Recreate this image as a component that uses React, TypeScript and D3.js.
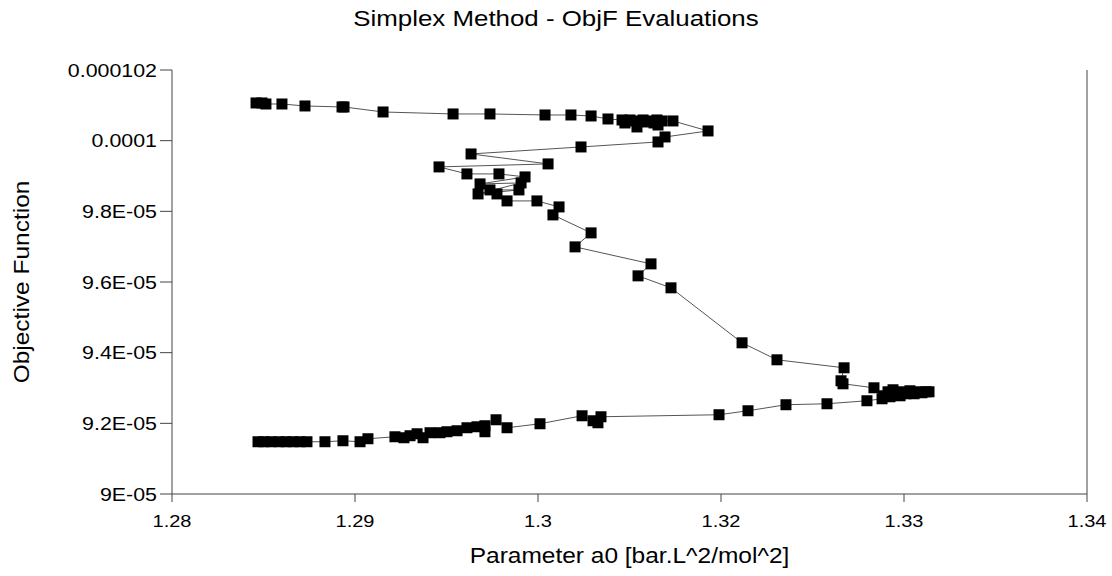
import React from "react";
import * as d3 from "d3";

const xValues: number[] = [
  1.28551, 1.2859, 1.28616, 1.28721, 1.28872, 1.29115, 1.29128, 1.29384, 1.29843, 1.30085,
  1.30446, 1.30616, 1.30748, 1.30859, 1.30951, 1.3097, 1.31003, 1.31023, 1.31049, 1.31089,
  1.31115, 1.31134, 1.31161, 1.3118, 1.31187, 1.31213, 1.31285, 1.31515, 1.31233, 1.31187,
  1.30682, 1.29961, 1.30466, 1.29751, 1.29934, 1.30144, 1.30315, 1.3002, 1.30289, 1.30007,
  1.30275, 1.30085, 1.30131, 1.30197, 1.30393, 1.30538, 1.30498, 1.30748, 1.30643, 1.31141,
  1.31056, 1.31272, 1.31738, 1.31967, 1.32407, 1.32387, 1.324, 1.32603, 1.32669, 1.32695,
  1.32728, 1.32754, 1.32787, 1.32813, 1.32839, 1.32866, 1.32892, 1.32918, 1.32944, 1.32964,
  1.32774, 1.32708, 1.32656, 1.32557, 1.32295, 1.32026, 1.31777, 1.31587, 1.30813, 1.30793,
  1.30761, 1.30689, 1.30413, 1.30197, 1.30125, 1.30052, 1.30052, 1.3, 1.29934, 1.29869,
  1.29803, 1.29757, 1.29692, 1.29646, 1.29607, 1.29561, 1.29521, 1.29462, 1.29285, 1.29233,
  1.29121, 1.29003, 1.28885, 1.28839, 1.28793, 1.28748, 1.28702, 1.28649, 1.28603, 1.28564,
];

// objective function values, in units of 1e-6
const yValuesE6: number[] = [
  101.067, 101.067, 101.038, 101.038, 100.982, 100.954, 100.954, 100.812, 100.756, 100.756,
  100.727, 100.727, 100.699, 100.614, 100.586, 100.501, 100.586, 100.558, 100.388, 100.586,
  100.529, 100.558, 100.501, 100.586, 100.444, 100.558, 100.558, 100.275, 100.105, 99.964,
  99.822, 99.624, 99.342, 99.257, 99.059, 99.059, 98.974, 98.776, 98.804, 98.493,
  98.606, 98.606, 98.493, 98.295, 98.295, 98.125, 97.899, 97.39, 96.994, 96.513,
  96.174, 95.835, 94.279, 93.798, 93.572, 93.204, 93.119, 93.006, 92.78, 92.893,
  92.95, 92.808, 92.893, 92.837, 92.922, 92.837, 92.893, 92.865, 92.893, 92.893,
  92.78, 92.752, 92.695, 92.639, 92.554, 92.526, 92.356, 92.243, 92.186, 92.016,
  92.073, 92.214, 91.988, 91.875, 92.101, 91.932, 91.762, 91.903, 91.875, 91.79,
  91.762, 91.734, 91.734, 91.592, 91.705, 91.649, 91.592, 91.62, 91.564, 91.479,
  91.507, 91.479, 91.479, 91.479, 91.479, 91.479, 91.479, 91.479, 91.479, 91.479,
];

const xTicks: number[] = [1.28, 1.292, 1.304, 1.316, 1.328, 1.34];
const xTickLabels: string[] = ["1.28", "1.29", "1.3", "1.32", "1.33", "1.34"];
const yTicks: number[] = [9e-5, 9.2e-5, 9.4e-5, 9.6e-5, 9.8e-5, 1e-4, 1.02e-4];
const yTickLabels: string[] = ["9E-05", "9.2E-05", "9.4E-05", "9.6E-05", "9.8E-05", "0.0001", "0.000102"];

const W = 1112;
const H = 576;
const left = 172;
const right = 1087;
const top = 70;
const bottom = 494;
const FONT = "'Liberation Sans', Arial, sans-serif";
const SX = 1.15;

function T(props: {
  x: number;
  y: number;
  size: number;
  anchor: "start" | "middle" | "end";
  rotate?: number;
  children: React.ReactNode;
}) {
  const { x, y, size, anchor, rotate, children } = props;
  return (
    <text
      transform={`translate(${x},${y})${rotate ? ` rotate(${rotate})` : ""} scale(${SX},1)`}
      textAnchor={anchor}
      fontSize={size}
      fill="#000"
    >
      {children}
    </text>
  );
}

export default function App() {
  const x = d3.scaleLinear().domain([1.28, 1.34]).range([left, right]);
  const y = d3.scaleLinear().domain([9e-5, 1.02e-4]).range([bottom, top]);
  const pts: [number, number][] = xValues.map((v, i) => [v, yValuesE6[i] * 1e-6]);
  const line = d3
    .line<[number, number]>()
    .x((d) => x(d[0]))
    .y((d) => y(d[1]));
  const ms = 11;
  const axisColor = "#444";

  return (
    <svg
      width={W}
      height={H}
      style={{ position: "absolute", left: 0, top: 0, background: "#fff" }}
      fontFamily={FONT}
    >
      <rect x={0} y={0} width={W} height={H} fill="#fff" />
      <T x={556} y={26} size={22.5} anchor="middle">
        Simplex Method - ObjF Evaluations
      </T>
      <line x1={left} y1={top} x2={left} y2={bottom} stroke={axisColor} strokeWidth={1} />
      <line x1={left} y1={bottom} x2={right} y2={bottom} stroke={axisColor} strokeWidth={1} />
      <line x1={right} y1={top} x2={right} y2={bottom} stroke={axisColor} strokeWidth={1} />
      {yTicks.map((t, i) => (
        <g key={"yt" + i}>
          <line x1={left - 12} x2={left} y1={y(t)} y2={y(t)} stroke={axisColor} />
          <T x={left - 15} y={y(t) + 6.5} size={18.6} anchor="end">
            {yTickLabels[i]}
          </T>
        </g>
      ))}
      {xTicks.map((t, i) => (
        <g key={"xt" + i}>
          <line x1={x(t)} x2={x(t)} y1={bottom} y2={bottom + 8} stroke={axisColor} />
          <T x={x(t)} y={527} size={17.4} anchor="middle">
            {xTickLabels[i]}
          </T>
        </g>
      ))}
      <T x={(left + right) / 2} y={563} size={21.3} anchor="middle">
        Parameter a0 [bar.L^2/mol^2]
      </T>
      <T x={29} y={(top + bottom) / 2} size={21.3} anchor="middle" rotate={-90}>
        Objective Function
      </T>
      <path d={line(pts) || ""} fill="none" stroke="#555" strokeWidth={1} />
      {pts.map((d, i) => (
        <rect
          key={"p" + i}
          x={x(d[0]) - ms / 2}
          y={y(d[1]) - ms / 2}
          width={ms}
          height={ms}
          fill="#000"
        />
      ))}
    </svg>
  );
}
